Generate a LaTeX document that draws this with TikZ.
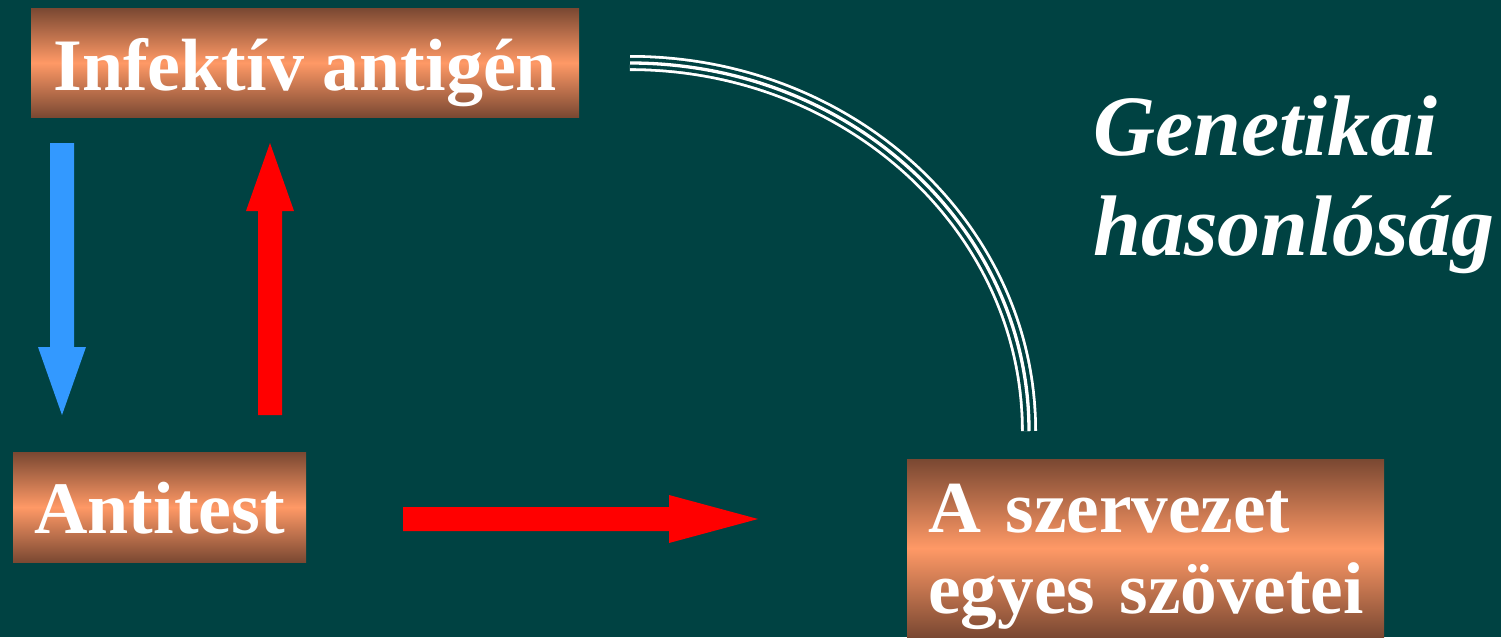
\documentclass[tikz,border=0pt]{standalone}
\usepackage{fontspec}
\setmainfont{Liberation Serif}
\definecolor{bg}{RGB}{0,66,66}
\definecolor{brownD}{RGB}{122,72,50}
\definecolor{peach}{RGB}{255,153,102}
\definecolor{arrowblue}{RGB}{51,153,255}
\definecolor{arrowred}{RGB}{255,0,0}
\begin{document}
\begin{tikzpicture}[x=1pt,y=-1pt,
  box/.style={rectangle, inner sep=0pt, anchor=north west,
    top color=brownD, bottom color=brownD, middle color=peach,
    text=white, font=\fontsize{74}{81}\selectfont\bfseries},
  genstyle/.style={text=white, inner sep=0pt, font=\fontsize{86}{100}\selectfont\bfseries\itshape},
  triple/.style={preaction={draw=white, line width=16pt}, draw=bg,
    line width=3.55pt, double=white, double distance=3.3pt}
]
\fill[bg] (0,0) rectangle (1501,637);
\useasboundingbox (0,0) rectangle (1501,637);

\node[box, minimum width=548pt, minimum height=109pt, text height=82pt, text depth=27pt] (inf) at (31,8) {Infektív antigén};
\node[box, minimum width=293pt, minimum height=110pt, text height=81pt, text depth=29pt] (anti) at (13,452) {Antitest};
\node[box, font=\fontsize{73.3}{81}\selectfont\bfseries, minimum width=477pt, minimum height=178pt, text width=435pt, align=left, text height=73pt, text depth=105pt] (szov) at (907,459) {\mbox{A szervezet}\\\mbox{egyes szövetei}};

\node[genstyle, anchor=base west, text width=400pt, align=left] (gen) at (1093,155) {Genetikai\\hasonlóság};

\coordinate (b1) at (62,143);
\coordinate (b2) at (62,415);
\coordinate (r1) at (270,415);
\coordinate (r2) at (270,143);
\coordinate (h1) at (403,519);
\coordinate (h2) at (758,519);
\coordinate (arcS) at (630,63);

% blue arrow: antigen -> antitest
\fill[arrowblue] (b1) ++(-12,0) -- ++(24,0) -- ++(0,204) -- ++(12,0) -- (b2) -- ++(-24,-68) -- ++(12,0) -- cycle;
% red arrow: antitest -> antigen
\fill[arrowred] (r1) ++(-12,0) -- ++(0,-204) -- ++(-12,0) -- (r2) -- ++(24,68) -- ++(-12,0) -- ++(0,204) -- cycle;
% red arrow: antitest -> tissues
\fill[arrowred] (h1) ++(0,-12) -- ++(266,0) -- ++(0,-12) -- (h2) -- ++(-89,24) -- ++(0,-12) -- ++(-266,0) -- cycle;

\draw[triple] (arcS) arc[start angle=-90, end angle=0, x radius=399, y radius=368];
\end{tikzpicture}
\end{document}
